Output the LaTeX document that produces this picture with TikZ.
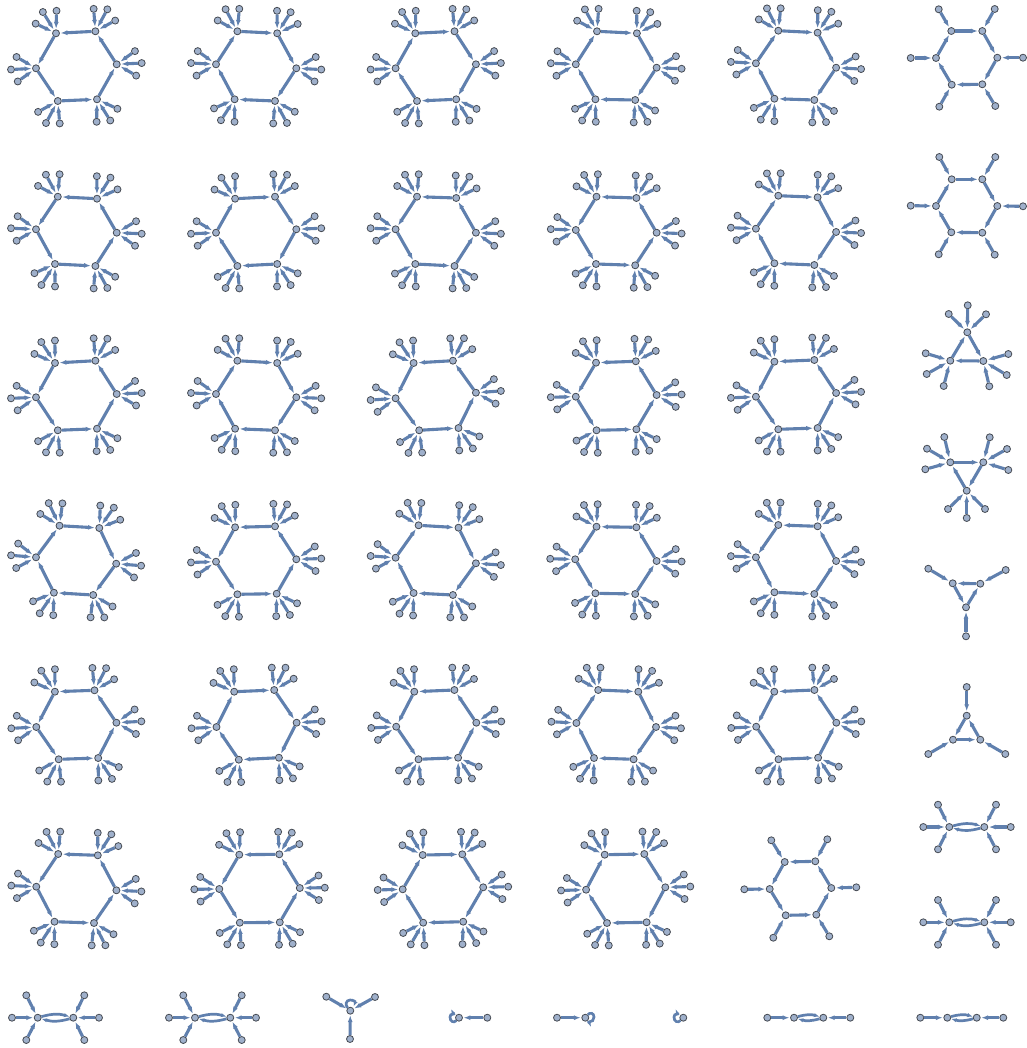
\documentclass[tikz,border=0pt]{standalone}
\usetikzlibrary{arrows.meta,calc}
\definecolor{arcblue}{HTML}{6080AE}
\definecolor{vertfill}{HTML}{9FB0CB}
\definecolor{vertline}{HTML}{454A52}
\tikzset{
  vert/.style={circle, draw=vertline, fill=vertfill, line width=0.8pt, minimum size=7pt, inner sep=0pt},
  arc/.style={draw=arcblue, line width=3.1pt, shorten >=0.5pt, -{Latex[length=7pt,width=5pt]}},
  thinarc/.style={arc, line width=2.7pt, shorten >=0pt, -{Latex[length=5.5pt,width=4.2pt]}},
}
\newcommand{\leaf}[3]{\node[vert] (#1) at (#3) {}; \draw[arc] (#1) -- (#2);}
\newcommand{\hexhubs}[7]{
  \node[vert] (#1a) at (#2) {};
  \node[vert] (#1b) at (#3) {};
  \node[vert] (#1c) at (#4) {};
  \node[vert] (#1d) at (#5) {};
  \node[vert] (#1e) at (#6) {};
  \node[vert] (#1f) at (#7) {};
}
\newcommand{\hexnet}[7]{
  \hexhubs{#1}{#2}{#3}{#4}{#5}{#6}{#7}
  \coordinate (#1o) at ($(#1a)!0.5!(#1d)$);
  \foreach \h in {a,b,c,d,e,f} {
    \coordinate (#1\h o) at ($(#1o)!2!(#1\h)$);
    \node[vert] (#1\h p) at ($(#1\h)!22.5pt!-33:(#1\h o)$) {};
    \node[vert] (#1\h q) at ($(#1\h)!25pt!(#1\h o)$) {};
    \node[vert] (#1\h r) at ($(#1\h)!22.5pt!33:(#1\h o)$) {};
    \draw[arc] (#1\h p) -- (#1\h);
    \draw[arc] (#1\h q) -- (#1\h);
    \draw[arc] (#1\h r) -- (#1\h);
  }
}
\newcommand{\ringcw}[1]{
  \foreach \u/\v in {a/b,b/c,c/d,d/e,e/f,f/a} \draw[arc] (#1\u) -- (#1\v);
}
\newcommand{\ringccw}[1]{
  \foreach \u/\v in {b/a,c/b,d/c,e/d,f/e,a/f} \draw[arc] (#1\u) -- (#1\v);
}
\begin{document}
\begin{tikzpicture}[x=1pt, y=-1pt]
  \useasboundingbox (0,0) rectangle (1026,1048);
  % rows of hexagons
  \hexnet{ra}{36,68.3}{56,33.3}{95.4,31.3}{116.7,64.3}{97,99.3}{57.8,101} \ringccw{ra}
  \hexnet{rb}{216,64.3}{237.4,31.3}{277.2,33.3}{296.3,68.3}{275,101}{234.6,99.3} \ringcw{rb}
  \hexnet{rc}{395.6,68.3}{415.3,33.3}{454.5,31.3}{475.9,64.3}{456.2,99.3}{417,101} \ringcw{rc}
  \hexnet{rd}{575.8,64.3}{597,31.3}{636.9,33.3}{656.6,67.7}{635.2,100}{595.4,99.3} \ringcw{rd}
  \hexnet{re}{755.9,63.3}{778.3,30.7}{817.6,32.7}{836.1,67.7}{814.3,100}{774.4,98.7} \ringcw{re}

  \hexnet{sa}{36,229.3}{57.8,196.7}{97,198.7}{116.7,232.7}{95.4,266}{55,264} \ringccw{sa}
  \hexnet{sb}{216,232.7}{235.1,198.7}{275,196.7}{296.3,229.3}{277.2,264}{237.4,266} \ringcw{sb}
  \hexnet{sc}{395.6,229.3}{417,196.7}{456.2,198}{475.9,232.7}{454.5,266}{415.3,264} \ringccw{sc}
  \hexnet{sd}{575.8,230}{596.5,196.7}{636.4,198}{656.6,232.7}{635.2,265.3}{596,264} \ringccw{sd}
  \hexnet{se}{755.9,228.7}{778.3,195.7}{817.6,197.3}{836.1,232}{814.3,265}{774.4,263.3} \ringcw{se}

  \hexnet{ta}{36,397.3}{55,363}{95.4,360.7}{116.7,394}{97,428.7}{57.8,430.3} \ringccw{ta}
  \hexnet{tb}{216,394}{237.4,360.7}{277.2,363}{296.3,397.3}{275,430.3}{235.1,428.7} \ringcw{tb}
  \hexnet{tc}{395.6,398.3}{413.6,363}{452.9,360.7}{475.9,392.7}{458.5,428}{419.2,430.3} \ringccw{tc}
  \hexnet{td}{575.8,396.7}{596,362.7}{635.8,361.3}{656.6,395}{636.4,429.3}{596.5,430.3} \ringccw{td}
  \hexnet{te}{755.9,396.7}{774.4,361.7}{814.3,360}{836.1,393}{817.6,428}{778.3,429.3} \ringccw{te}

  \hexnet{ua}{36,557.3}{59.5,525.7}{99.3,528}{116.2,563.7}{93.2,595}{53.9,592.7} \ringcw{ua}
  \hexnet{ub}{216,561.7}{235.1,527.3}{275,526.3}{296.3,559.3}{276.7,593.7}{237.4,594.3} \ringccw{ub}
  \hexnet{uc}{395.6,557.7}{418.6,525.3}{458.5,527.7}{475.9,563.3}{452.9,595}{413.6,593} \ringcw{uc}
  \hexnet{ud}{575.2,559.3}{596.5,526.7}{636.4,527.3}{656.6,561}{635.2,594}{595.4,593.3} \ringccw{ud}
  \hexnet{ue}{755.9,557.3}{778.3,525}{817.6,526.3}{836.1,561}{814.3,594}{774.4,592.3} \ringccw{ue}

  \hexnet{va}{36.3,727}{54.9,691.7}{94.5,690.3}{116.4,722.7}{98.2,758}{58.7,759.3} \ringccw{va}
  \hexnet{vb}{216.5,727}{234.2,691.7}{274.2,690}{296.6,722.7}{278.9,757.7}{238.8,759.7} \ringcw{vb}
  \hexnet{vc}{396.2,726.7}{414.3,691.7}{454.4,690}{476.3,722.7}{458.1,757.7}{418.5,759.3} \ringccw{vc}
  \hexnet{vd}{576.4,723}{598.2,690}{638.3,691.7}{656,727}{633.6,759.3}{594,758} \ringcw{vd}
  \hexnet{ve}{756.2,726.7}{774.3,691.7}{814.4,690}{836.3,722.7}{818.1,757.7}{778.5,759.3} \ringccw{ve}

  \hexnet{wa}{36.3,886.7}{58.2,854}{97.8,855.3}{116.4,890.3}{94,923}{54.5,921.7} \ringccw{wa}
  \hexnet{wb}{219.3,889}{239.3,854.7}{279.3,854.3}{299.8,888}{279.8,922.3}{239.8,922.7} \ringccw{wb}
  \hexnet{wc}{402.7,889.3}{422.7,855}{462.3,854.3}{483.2,887.3}{463.2,921.7}{423.2,922.7} \ringcw{wc}
  \hexnet{wd}{586.1,889.7}{604.7,854.7}{644.3,854}{665.3,887.3}{646.6,922.3}{607,923} \ringcw{wd}

  % hexagons with one leaf
  \hexhubs{xa}{769.7,889}{784.7,862}{815.3,861.3}{831.3,888}{816.3,914.7}{785.7,915.3}
  \ringccw{xa}
  \leaf{xap}{xaa}{744.3,889.3}
  \leaf{xaq}{xab}{771.3,840.3}
  \leaf{xar}{xac}{827.3,839.3}
  \leaf{xas}{xad}{856.3,887.3}
  \leaf{xat}{xae}{829.3,936.3}
  \leaf{xau}{xaf}{773.3,937.7}

  \hexhubs{ya}{936,58}{951.3,31}{982.3,31}{997.3,57.7}{982.3,84.3}{951.7,84.7}
  \ringcw{ya}
  \leaf{yap}{yaa}{910.7,58}
  \leaf{yaq}{yab}{938.7,9.3}
  \leaf{yar}{yac}{994.7,9}
  \leaf{yas}{yad}{1023,57.7}
  \leaf{yat}{yae}{995.3,106}
  \leaf{yau}{yaf}{939.3,106.7}

  \hexhubs{yb}{936,206}{951.7,179.3}{982.3,179.3}{997.3,206}{982.3,232.7}{951.3,232.3}
  \ringcw{yb}
  \leaf{ybp}{yba}{910.7,205.7}
  \leaf{ybq}{ybb}{939.3,157}
  \leaf{ybr}{ybc}{995.3,157}
  \leaf{ybs}{ybd}{1023,206.3}
  \leaf{ybt}{ybe}{994.7,254.7}
  \leaf{ybu}{ybf}{938.7,254.3}

  % triangles
  \node[vert] (tra) at (967.3,332.3) {};
  \node[vert] (trb) at (950.3,360.7) {};
  \node[vert] (trc) at (983.3,361) {};
  \draw[arc] (trc) -- (trb);
  \draw[arc] (trb) -- (tra);
  \draw[arc] (tra) -- (trc);
  \leaf{tra1}{tra}{948.7,314}
  \leaf{tra2}{tra}{967.7,305.3}
  \leaf{tra3}{tra}{986,314.3}
  \leaf{trb1}{trb}{925.7,353.3}
  \leaf{trb2}{trb}{926.7,374}
  \leaf{trb3}{trb}{943.7,386}
  \leaf{trc1}{trc}{1008.3,354}
  \leaf{trc2}{trc}{1006.7,375}
  \leaf{trc3}{trc}{989.3,386.3}

  \node[vert] (tsa) at (966.7,490.7) {};
  \node[vert] (tsb) at (950.3,462.3) {};
  \node[vert] (tsc) at (983.3,462.3) {};
  \draw[arc] (tsb) -- (tsc);
  \draw[arc] (tsc) -- (tsa);
  \draw[arc] (tsa) -- (tsb);
  \leaf{tsa1}{tsa}{948,509}
  \leaf{tsa2}{tsa}{966.7,518}
  \leaf{tsa3}{tsa}{985,509}
  \leaf{tsb1}{tsb}{944.3,437}
  \leaf{tsb2}{tsb}{927,448.7}
  \leaf{tsb3}{tsb}{925.3,469.3}
  \leaf{tsc1}{tsc}{989.7,437.3}
  \leaf{tsc2}{tsc}{1007,449}
  \leaf{tsc3}{tsc}{1008.3,470}

  \node[vert] (tta) at (966,607.3) {};
  \node[vert] (ttb) at (952.7,583.3) {};
  \node[vert] (ttc) at (980.3,583.7) {};
  \draw[arc] (ttc) -- (ttb);
  \draw[arc] (ttb) -- (tta);
  \draw[arc] (tta) -- (ttc);
  \leaf{tta1}{tta}{966,636.3}
  \leaf{ttb1}{ttb}{928.3,568.7}
  \leaf{ttc1}{ttc}{1005.7,570}

  \node[vert] (tua) at (966.7,715.7) {};
  \node[vert] (tub) at (953,739.7) {};
  \node[vert] (tuc) at (980.3,739.7) {};
  \draw[arc] (tub) -- (tuc);
  \draw[arc] (tuc) -- (tua);
  \draw[arc] (tua) -- (tub);
  \leaf{tua1}{tua}{966.7,687}
  \leaf{tub1}{tub}{928.3,754}
  \leaf{tuc1}{tuc}{1005.3,754}

  % double arcs
  \node[vert] (da) at (949.3,827) {};
  \node[vert] (db) at (984.3,827) {};
  \draw[thinarc] (da) to[bend left=16] (db);
  \draw[thinarc] (db) to[bend left=16] (da);
  \leaf{da1}{da}{938,804.7}
  \leaf{da2}{da}{923.3,827}
  \leaf{da3}{da}{938,849.3}
  \leaf{db1}{db}{996,804.7}
  \leaf{db2}{db}{1010.7,827}
  \leaf{db3}{db}{996,849.3}

  \node[vert] (ea) at (949.3,922.3) {};
  \node[vert] (eb) at (984.3,922.3) {};
  \draw[thinarc] (ea) to[bend left=16] (eb);
  \draw[thinarc] (eb) to[bend left=16] (ea);
  \leaf{ea1}{ea}{938,900}
  \leaf{ea2}{ea}{923.3,922.3}
  \leaf{ea3}{ea}{938,944.7}
  \leaf{eb1}{eb}{996,900}
  \leaf{eb2}{eb}{1010.7,922.3}
  \leaf{eb3}{eb}{996,944.7}

  \node[vert] (fa) at (37.7,1017.7) {};
  \node[vert] (fb) at (73.3,1017.7) {};
  \draw[thinarc] (fa) to[bend left=16] (fb);
  \draw[thinarc] (fb) to[bend left=16] (fa);
  \leaf{fa1}{fa}{26.3,995.3}
  \leaf{fa2}{fa}{12,1017.7}
  \leaf{fa3}{fa}{26.3,1040}
  \leaf{fb1}{fb}{84.3,995.3}
  \leaf{fb2}{fb}{99,1017.7}
  \leaf{fb3}{fb}{84.3,1040}

  \node[vert] (ga) at (195,1017.7) {};
  \node[vert] (gb) at (230.3,1017.7) {};
  \draw[thinarc] (ga) to[bend left=16] (gb);
  \draw[thinarc] (gb) to[bend left=16] (ga);
  \leaf{ga1}{ga}{183.3,995.3}
  \leaf{ga2}{ga}{169,1017.7}
  \leaf{ga3}{ga}{183.3,1040}
  \leaf{gb1}{gb}{241.7,995.3}
  \leaf{gb2}{gb}{256,1017.7}
  \leaf{gb3}{gb}{241.7,1040}

  % loops
  \node[vert] (ha) at (350.3,1010.7) {};
  \leaf{ha1}{ha}{326.3,996.7}
  \leaf{ha2}{ha}{375,997}
  \leaf{ha3}{ha}{350,1039}
  \coordinate (hat) at (353.5,1006.5);
  \draw[thinarc] (ha) .. controls (345,1005) and (346,1000) .. (350,1000) .. controls (354,1000) and (355.5,1002) .. (hat);

  \node[vert] (ia) at (459,1017.7) {};
  \leaf{ia1}{ia}{487.3,1017.7}
  \coordinate (iat) at (451,1009);
  \draw[thinarc] (ia) .. controls (454,1023) and (450,1022) .. (450,1017) .. controls (450,1015) and (451,1014) .. (453.5,1014) -- (iat);

  \node[vert] (ja) at (585.3,1017.7) {};
  \leaf{ja1}{ja}{557,1017.7}
  \coordinate (jat) at (591,1027);
  \draw[thinarc] (ja) .. controls (590,1012) and (594,1013) .. (594,1017) .. controls (594,1020) and (592,1022) .. (589,1022) -- (jat);

  \node[vert] (ka) at (683.3,1017.7) {};
  \coordinate (kat) at (675.5,1009);
  \draw[thinarc] (ka) .. controls (678,1023) and (674,1022) .. (674,1017) .. controls (674,1015) and (675,1014) .. (677.5,1014) -- (kat);

  % paths of four
  \node[vert] (la) at (794,1017.7) {};
  \node[vert] (lb) at (823.3,1017.7) {};
  \draw[thinarc] (la) to[bend left=16] (lb);
  \draw[thinarc] (lb) to[bend left=16] (la);
  \leaf{la1}{la}{767.3,1017.7}
  \leaf{lb1}{lb}{850.3,1017.7}

  \node[vert] (ma) at (947.3,1017.7) {};
  \node[vert] (mb) at (976.7,1017.7) {};
  \draw[thinarc] (ma) to[bend left=16] (mb);
  \draw[thinarc] (mb) to[bend left=16] (ma);
  \leaf{ma1}{ma}{920.3,1017.7}
  \leaf{mb1}{mb}{1003.3,1017.7}
\end{tikzpicture}
\end{document}
